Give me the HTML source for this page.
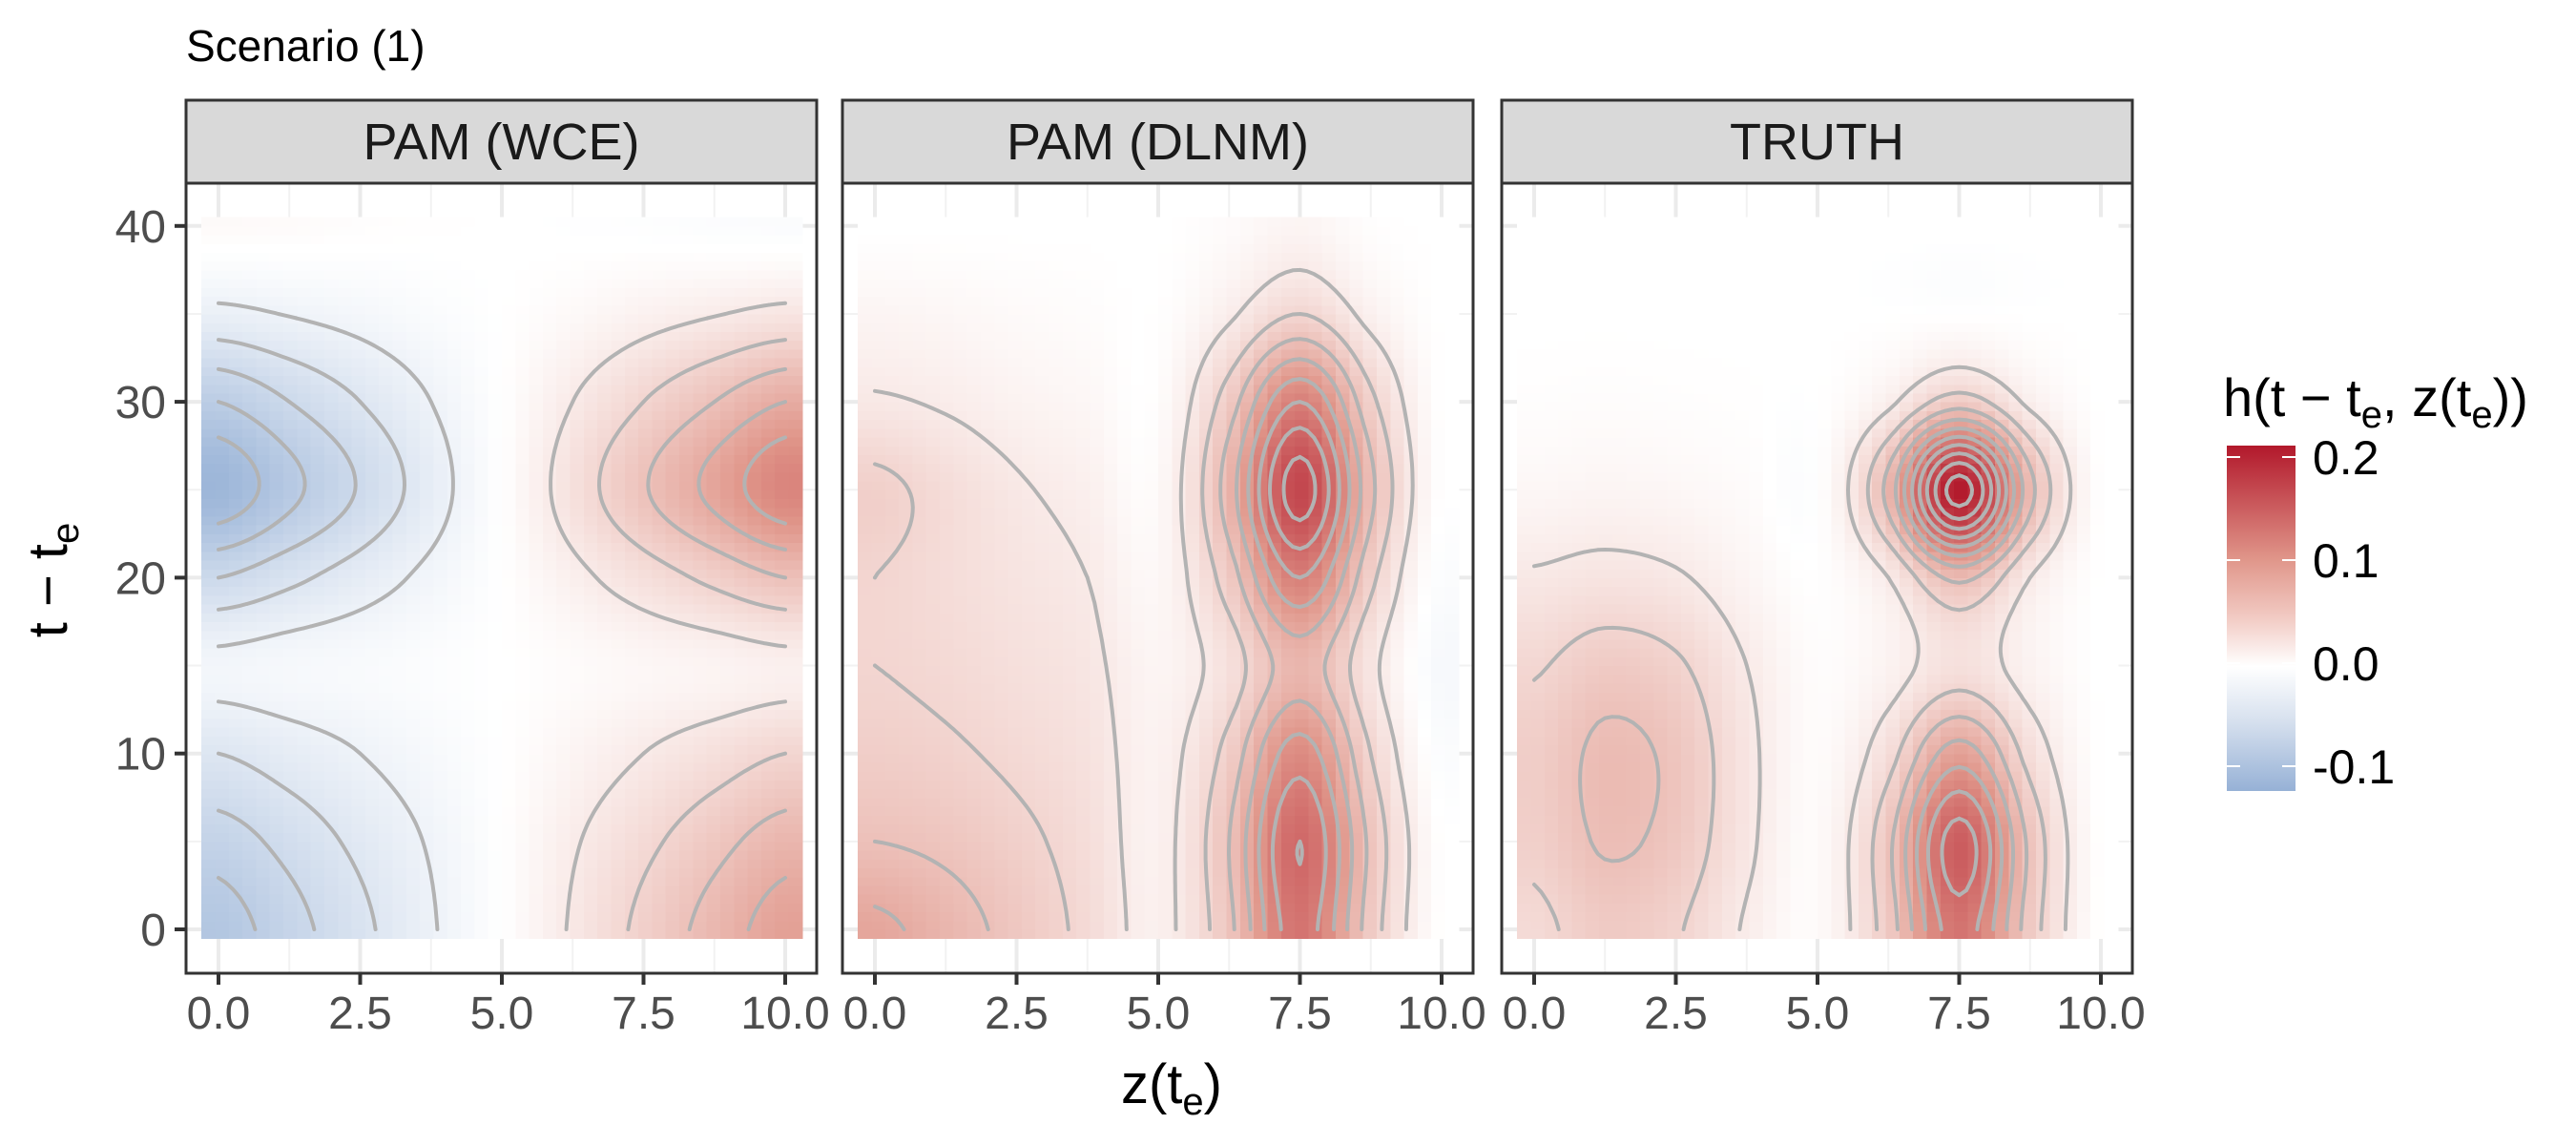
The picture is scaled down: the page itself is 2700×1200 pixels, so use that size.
<!DOCTYPE html>
<html><head><meta charset="utf-8"><title>Scenario (1)</title>
<style>html,body{margin:0;padding:0;background:#fff}svg{display:block;font-family:"Liberation Sans",Arial,sans-serif}</style>
</head><body>
<svg id="chart" width="2700" height="1200" viewBox="0 0 2700 1200"></svg>
<script>
// ---- data ----
const panelTitles = ["PAM (WCE)", "PAM (DLNM)", "TRUTH"];
const zGrid = [0, 1.25, 2.5, 3.75, 5, 6.25, 7.5, 8.75, 10];
const tGrid = [0, 5, 10, 15, 20, 25, 30, 35, 40];
const xTickLabels = ["0.0", "2.5", "5.0", "7.5", "10.0"];
const xTickValues = [0, 2.5, 5, 7.5, 10];
const yTickValues = [0, 10, 20, 30, 40];
const legendTickValues = [0.2, 0.1, 0.0, -0.1];
const legendTickLabels = ["0.2", "0.1", "0.0", "-0.1"];
const contourLevels = [-0.12,-0.1,-0.08,-0.06,-0.04,-0.02,0.02,0.04,0.06,0.08,0.1,0.12,0.14,0.16,0.18,0.2];
// rows = tGrid, cols = zGrid
const wceValues = [
 [-0.09,-0.068,-0.045,-0.022,0,0.022,0.045,0.068,0.09],
 [-0.07,-0.053,-0.035,-0.018,0,0.018,0.035,0.053,0.07],
 [-0.04,-0.03,-0.02,-0.01,0,0.01,0.02,0.03,0.04],
 [-0.015,-0.011,-0.008,-0.004,0,0.004,0.008,0.011,0.015],
 [-0.06,-0.045,-0.03,-0.015,0,0.015,0.03,0.045,0.06],
 [-0.115,-0.086,-0.058,-0.029,0,0.029,0.058,0.086,0.115],
 [-0.08,-0.06,-0.04,-0.02,0,0.02,0.04,0.06,0.08],
 [-0.025,-0.019,-0.013,-0.006,0,0.006,0.013,0.019,0.025],
 [0.005,0.004,0.002,0.001,0,-0.001,-0.002,-0.004,-0.005]
];
const dlnmValues = [
 [0.085,0.07,0.053,0.035,0.015,0.055,0.13,0.05,0],
 [0.06,0.055,0.045,0.032,0.014,0.06,0.14,0.055,0],
 [0.047,0.043,0.036,0.028,0.013,0.047,0.11,0.04,-0.005],
 [0.04,0.036,0.03,0.024,0.01,0.03,0.07,0.025,-0.01],
 [0.04,0.033,0.026,0.02,0.008,0.05,0.12,0.045,-0.005],
 [0.045,0.033,0.022,0.015,0.006,0.07,0.17,0.065,0],
 [0.022,0.018,0.012,0.008,0.003,0.05,0.12,0.045,0],
 [0.01,0.008,0.005,0.003,0.001,0.017,0.04,0.014,0],
 [0,0,0,0,0,0.004,0.01,0.002,0]
];
const truthValues = [
 [0.035,0.05,0.042,0.018,0.005,0.05,0.13,0.05,0],
 [0.045,0.062,0.053,0.024,0.005,0.055,0.15,0.055,0],
 [0.047,0.064,0.055,0.025,0.004,0.032,0.09,0.032,0],
 [0.038,0.05,0.043,0.02,0.003,0.012,0.03,0.012,0],
 [0.022,0.026,0.022,0.01,0.001,0.02,0.065,0.02,0],
 [0.008,0.01,0.008,0.004,0,0.067,0.21,0.067,0],
 [0.002,0.003,0.002,0.001,0,0.016,0.05,0.016,0],
 [0,0,0,0,0,0,0,0,0],
 [0,0,0,0,0,0,0,0,0]
];
const panelValues = [wceValues, dlnmValues, truthValues];

// ---- layout ----
const NS = "http://www.w3.org/2000/svg";
const svg = document.getElementById("chart");
const panelLefts = [195, 883, 1574];
const panelW = 661, stripTop = 105, plotTop = 192, plotBottom = 1020;
function xScale(p, z) { return panelLefts[p] + 34 + z * 59.4; }
function yScale(t) { return 974 - t * 18.43; }
function mk(tag, attrs, parent) {
  const e = document.createElementNS(NS, tag);
  for (const k in attrs) e.setAttribute(k, attrs[k]);
  (parent || svg).appendChild(e);
  return e;
}
function lerp(a, b, f) { return a + (b - a) * f; }
function mix(c1, c2, f) { return [lerp(c1[0], c2[0], f), lerp(c1[1], c2[1], f), lerp(c1[2], c2[2], f)]; }
function color(v) {
  let c;
  const W = [255,255,255], R1 = [224,150,138], R2 = [178,24,43], B1 = [150,177,214];
  if (v >= 0.1) c = mix(R1, R2, Math.min((v - 0.1) / 0.112, 1));
  else if (v >= 0) c = mix(W, R1, v / 0.1);
  else c = mix(W, B1, Math.min(-v / 0.124, 1));
  return "rgb(" + c.map(x => Math.round(x)).join(",") + ")";
}
function cr(p0, p1, p2, p3, f) {
  return 0.5 * ((2 * p1) + (-p0 + p2) * f + (2 * p0 - 5 * p1 + 4 * p2 - p3) * f * f + (-p0 + 3 * p1 - 3 * p2 + p3) * f * f * f);
}
function sample(vals, z, t) {
  z = Math.max(0, Math.min(10, z)); t = Math.max(0, Math.min(40, t));
  const n = zGrid.length, m = tGrid.length;
  const zi = Math.min(n - 2, Math.floor(z / 1.25)), ti = Math.min(m - 2, Math.floor(t / 5));
  const fz = (z - zGrid[zi]) / 1.25, ft = (t - tGrid[ti]) / 5;
  const cl = (i, k) => Math.max(0, Math.min(k - 1, i));
  const rows = [];
  for (let r = -1; r <= 2; r++) {
    const row = vals[cl(ti + r, m)];
    rows.push(cr(row[cl(zi - 1, n)], row[zi], row[zi + 1], row[cl(zi + 2, n)], fz));
  }
  return cr(rows[0], rows[1], rows[2], rows[3], ft);
}

const title = mk("text", {x: 195, y: 64, "font-size": 46, fill: "#000"});


title.textContent = "Scenario (1)";

panelTitles.forEach((name, p) => {
  const L = panelLefts[p];
  const g = mk("g", {});
  
  
  mk("rect", {x: L, y: plotTop, width: panelW, height: plotBottom - plotTop, fill: "#fff"}, g);
  const minorZ = [1.25, 3.75, 6.25, 8.75], minorT = [5, 15, 25, 35];
  minorZ.forEach(z => mk("line", {x1: xScale(p, z), x2: xScale(p, z), y1: plotTop, y2: plotBottom, stroke: "#F2F2F2", "stroke-width": 2}, g));
  minorT.forEach(t => mk("line", {x1: L, x2: L + panelW, y1: yScale(t), y2: yScale(t), stroke: "#F2F2F2", "stroke-width": 2}, g));
  xTickValues.forEach(z => mk("line", {x1: xScale(p, z), x2: xScale(p, z), y1: plotTop, y2: plotBottom, stroke: "#EBEBEB", "stroke-width": 4}, g));
  yTickValues.forEach(t => mk("line", {x1: L, x2: L + panelW, y1: yScale(t), y2: yScale(t), stroke: "#EBEBEB", "stroke-width": 4}, g));
  const vals = panelValues[p];
  const hm = mk("g", {"shape-rendering": "crispEdges"}, g);
  
  
  const nz = 44, nt = 82, z0 = -0.3, z1 = 10.3, t0 = -0.5, t1 = 40.5;
  const dz = (z1 - z0) / nz, dt = (t1 - t0) / nt;
  for (let i = 0; i < nz; i++) for (let j = 0; j < nt; j++) {
    const za = z0 + i * dz, ta = t0 + j * dt;
    const v = sample(vals, za + dz / 2, ta + dt / 2);
    const xa = xScale(p, za), xb = xScale(p, za + dz), ya = yScale(ta + dt), yb = yScale(ta);
    mk("rect", {x: xa.toFixed(1), y: ya.toFixed(1), width: (xb - xa + 0.6).toFixed(1), height: (yb - ya + 0.6).toFixed(1), fill: color(v)}, hm);
  }
  const cg = mk("g", {stroke: "#B3B3B3", "stroke-width": 4, fill: "none", "stroke-linecap": "round"}, g);
  
  
  const cz = 80, ct = 160, gv = [];
  for (let j = 0; j <= ct; j++) { gv.push([]); for (let i = 0; i <= cz; i++) gv[j].push(sample(vals, i * 10 / cz, j * 40 / ct)); }
  contourLevels.forEach(lev => {
    let d = "";
    for (let j = 0; j < ct; j++) for (let i = 0; i < cz; i++) {
      const c = [[i, j], [i + 1, j], [i + 1, j + 1], [i, j + 1]];
      const v = c.map(q => gv[q[1]][q[0]]);
      const pts = [];
      for (let k = 0; k < 4; k++) {
        const a = v[k], b = v[(k + 1) % 4];
        if ((a < lev) !== (b < lev)) {
          const f = (lev - a) / (b - a), A = c[k], B = c[(k + 1) % 4];
          pts.push([xScale(p, lerp(A[0], B[0], f) * 10 / cz), yScale(lerp(A[1], B[1], f) * 40 / ct)]);
        }
      }
      for (let k = 0; k + 1 < pts.length; k += 2)
        d += "M" + pts[k][0].toFixed(1) + " " + pts[k][1].toFixed(1) + "L" + pts[k + 1][0].toFixed(1) + " " + pts[k + 1][1].toFixed(1);
    }
    if (d) mk("path", {d: d}, cg);
  });
  mk("rect", {x: L, y: plotTop, width: panelW, height: plotBottom - plotTop, fill: "none", stroke: "#333", "stroke-width": 3}, g);
  const strip = mk("rect", {x: L, y: stripTop, width: panelW, height: plotTop - stripTop, fill: "#D9D9D9", stroke: "#333", "stroke-width": 3});
  
  
  const st = mk("text", {x: L + panelW / 2, y: 167, "text-anchor": "middle", "font-size": 54, fill: "#1A1A1A"});
  
  
  st.textContent = name;
  xTickValues.forEach((z, k) => {
    mk("line", {x1: xScale(p, z), x2: xScale(p, z), y1: plotBottom, y2: plotBottom + 12, stroke: "#333", "stroke-width": 4});
    const tx = mk("text", {x: xScale(p, z), y: 1078, "text-anchor": "middle", "font-size": 48, fill: "#4D4D4D"});
    
    
    tx.textContent = xTickLabels[k];
  });
});
yTickValues.forEach(t => {
  mk("line", {x1: 183, x2: 195, y1: yScale(t), y2: yScale(t), stroke: "#333", "stroke-width": 4});
  const ty = mk("text", {x: 174, y: yScale(t) + 17, "text-anchor": "end", "font-size": 48, fill: "#4D4D4D"});
  
  
  ty.textContent = String(t);
});

const xt = mk("text", {x: 1228, y: 1156, "text-anchor": "middle", "font-size": 58, fill: "#000"});


xt.innerHTML = 'z(t<tspan dy="12" font-size="40">e</tspan><tspan dy="-12">)</tspan>';
const yt = mk("text", {transform: "translate(70,608) rotate(-90)", "text-anchor": "middle", "font-size": 58, fill: "#000"});


yt.innerHTML = 't − t<tspan dy="12" font-size="40">e</tspan>';
const lt = mk("text", {x: 2330, y: 436, "font-size": 56, fill: "#000"});


lt.innerHTML = 'h(t − t<tspan dy="12" font-size="40">e</tspan><tspan dy="-12">, z(t</tspan><tspan dy="12" font-size="40">e</tspan><tspan dy="-12">))</tspan>';
const defs = mk("defs", {});
const lg = mk("linearGradient", {id: "cbar", x1: 0, y1: 0, x2: 0, y2: 1}, defs);
[[0,"#B2182B"],[0.33,"#E0968A"],[0.5,"#F2CBC4"],[0.64,"#FFFFFF"],[0.8,"#D6E0EE"],[1,"#96B1D6"]].forEach(s => mk("stop", {offset: s[0], "stop-color": s[1]}, lg));
const cb = mk("rect", {x: 2334, y: 467, width: 72, height: 362, fill: "url(#cbar)"});


function ly(v) { return 695 - v * 1080; }
legendTickValues.forEach((v, k) => {
  mk("line", {x1: 2334, x2: 2348, y1: ly(v), y2: ly(v), stroke: "#fff", "stroke-width": 2});
  mk("line", {x1: 2392, x2: 2406, y1: ly(v), y2: ly(v), stroke: "#fff", "stroke-width": 2});
  const t = mk("text", {x: 2424, y: ly(v) + 18, "font-size": 50, fill: "#000"});
  
  
  t.textContent = legendTickLabels[k];
});
</script>
</body></html>
